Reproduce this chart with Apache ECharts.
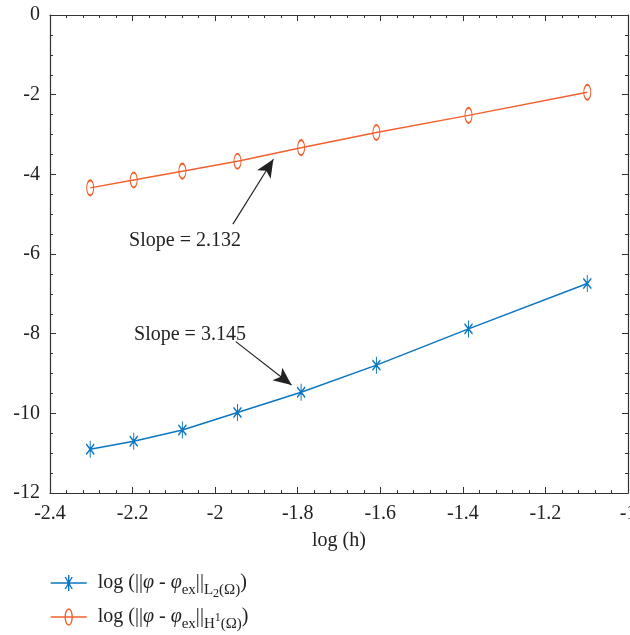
<!DOCTYPE html>
<html>
<head>
<meta charset="utf-8">
<script src="https://cdn.jsdelivr.net/npm/echarts@6/dist/echarts.min.js"></script>
<style>
html,body{margin:0;padding:0;background:#fff;}
#chart{width:630px;height:635px;}
</style>
</head>
<body>
<div id="chart"></div>
<script>
// ---- data ----
const logH = [-2.3026, -2.1972, -2.0794, -1.9459, -1.7918, -1.6094, -1.3863, -1.0986];
const errL2 = [-10.90, -10.70, -10.42, -9.98, -9.47, -8.79, -7.88, -6.74];
const errH1 = [-4.34, -4.14, -3.92, -3.67, -3.33, -2.95, -2.52, -1.94];
const seriesNames = ['L2', 'H1'];
const slopeLabels = ['Slope = 2.132', 'Slope = 3.145'];
// annotation anchors in data units: [textX, textY, arrowStartX, arrowStartY, arrowTipX, arrowTipY]
const annH1 = [-2.073, -5.66, -1.957, -5.25, -1.859, -3.62];
const annL2 = [-2.061, -8.03, -1.950, -8.20, -1.815, -9.29];

const FONT = '"Liberation Serif", "DejaVu Serif", serif';
const FS = 20;
const BLUE = '#0b76c2';
const ORANGE = '#f2602e';
const AX = '#333333';

const chart = echarts.init(document.getElementById('chart'), null, {renderer: 'canvas'});

function pts(xs, ys) { return xs.map((x, i) => [x, ys[i]]); }

const starPath = 'path://M5,0L5,20M0,4L10,16M0,16L10,4';
const legendStar = 'path://M0,8L36,8M18,0L18,16M14.5,2L21.5,14M14.5,14L21.5,2';
const legendCircle = 'path://M0,8L36,8M14.5,8A3.5,8,0,1,1,21.5,8A3.5,8,0,1,1,14.5,8Z';

function axisCommon(extra) {
  return Object.assign({
    type: 'value',
    axisLine: {show: true, onZero: false, lineStyle: {color: AX, width: 1.2}},
    axisTick: {show: true, inside: true, length: 6, lineStyle: {color: AX, width: 1}},
    splitLine: {show: false},
    minorSplitLine: {show: false}
  }, extra);
}

const labelStyle = {fontFamily: FONT, fontSize: FS, color: '#222'};

const rich = {
  n0: {fontFamily: FONT, fontSize: FS, color: '#222', padding: [0, 0, 0, 6]},
  n: {fontFamily: FONT, fontSize: FS, color: '#222'},
  i: {fontFamily: FONT, fontSize: FS, color: '#222', fontStyle: 'italic'},
  s: {fontFamily: FONT, fontSize: 15, color: '#222', padding: [14, 0, 0, 0]},
  ss: {fontFamily: FONT, fontSize: 12, color: '#222', padding: [22, 0, 0, 0]},
  sp: {fontFamily: FONT, fontSize: 12, color: '#222', padding: [2, 0, 0, 0]}
};

const legendText = {
  L2: '{n0|log (||}{i|φ}{n| - }{i|φ}{s|ex}{n|||}{s|L}{ss|2}{s|(Ω)}{n|)}',
  H1: '{n0|log (||}{i|φ}{n| - }{i|φ}{s|ex}{n|||}{s|H}{sp|1}{s|(Ω)}{n|)}'
};

function legendFor(name, icon, color, top) {
  return {
    orient: 'vertical',
    left: 50, top: top, padding: 0,
    itemWidth: 36, itemHeight: 16,
    symbolKeepAspect: true,
    selectedMode: false,
    formatter: n => legendText[n],
    textStyle: {fontFamily: FONT, fontSize: FS, color: '#222', rich: rich},
    data: [{name: name, icon: icon, itemStyle: {color: 'rgba(0,0,0,0)', borderColor: color, borderWidth: 1.4}}]
  };
}

const option = {
  animation: false,
  backgroundColor: '#fff',
  grid: {left: 50, right: 2, top: 15, bottom: 142, containLabel: false, outerBoundsMode: 'none'},
  xAxis: [
    axisCommon({
      min: -2.4, max: -1, interval: 0.2, position: 'bottom',
      minorTick: {show: true, splitNumber: 5, length: 3, lineStyle: {color: AX, width: 1}},
      axisLabel: Object.assign({margin: 11}, labelStyle),
      name: 'log (h)', nameLocation: 'middle', nameGap: 38,
      nameTextStyle: labelStyle
    }),
    axisCommon({
      min: -2.4, max: -1, interval: 0.2, position: 'top',
      minorTick: {show: true, splitNumber: 5, length: 3, lineStyle: {color: AX, width: 1}},
      axisLabel: {show: false}
    })
  ],
  yAxis: [
    axisCommon({
      min: -12, max: 0, interval: 2, position: 'left',
      minorTick: {show: true, splitNumber: 4, length: 3, lineStyle: {color: AX, width: 1}},
      axisLabel: Object.assign({margin: 10}, labelStyle)
    }),
    axisCommon({
      min: -12, max: 0, interval: 2, position: 'right',
      minorTick: {show: true, splitNumber: 4, length: 3, lineStyle: {color: AX, width: 1}},
      axisLabel: {show: false}
    })
  ],
  legend: [
    legendFor('L2', legendStar, BLUE, 573),
    legendFor('H1', legendCircle, ORANGE, 607)
  ],
  series: [
    {
      name: 'L2', type: 'line', data: pts(logH, errL2),
      symbol: starPath, symbolSize: [8, 17],
      lineStyle: {color: BLUE, width: 1.5},
      itemStyle: {color: BLUE, borderColor: BLUE, borderWidth: 1.4},
      emphasis: {disabled: true},
      markLine: {
        silent: true, animation: false,
        symbol: ['none', 'arrow'], symbolSize: [12, 18],
        lineStyle: {color: '#222', width: 1.2, type: 'solid'},
        label: {show: false},
        data: [[{coord: [annL2[2], annL2[3]]}, {coord: [annL2[4], annL2[5]]}]]
      },
      markPoint: {
        silent: true, animation: false,
        symbol: 'rect', symbolSize: 1, itemStyle: {color: 'rgba(0,0,0,0)'},
        label: {show: true, position: 'inside', formatter: p => p.name, fontFamily: FONT, fontSize: FS, color: '#222'},
        data: [{name: slopeLabels[1], coord: [annL2[0], annL2[1]]}]
      }
    },
    {
      name: 'H1', type: 'line', data: pts(logH, errH1),
      symbol: 'circle', symbolSize: [7, 15],
      lineStyle: {color: ORANGE, width: 1.5},
      itemStyle: {color: 'rgba(255,255,255,0)', borderColor: ORANGE, borderWidth: 1.4},
      emphasis: {disabled: true},
      markLine: {
        silent: true, animation: false,
        symbol: ['none', 'arrow'], symbolSize: [12, 18],
        lineStyle: {color: '#222', width: 1.2, type: 'solid'},
        label: {show: false},
        data: [[{coord: [annH1[2], annH1[3]]}, {coord: [annH1[4], annH1[5]]}]]
      },
      markPoint: {
        silent: true, animation: false,
        symbol: 'rect', symbolSize: 1, itemStyle: {color: 'rgba(0,0,0,0)'},
        label: {show: true, position: 'inside', formatter: p => p.name, fontFamily: FONT, fontSize: FS, color: '#222'},
        data: [{name: slopeLabels[0], coord: [annH1[0], annH1[1]]}]
      }
    }
  ]
};
chart.setOption(option);
</script>
</body>
</html>
